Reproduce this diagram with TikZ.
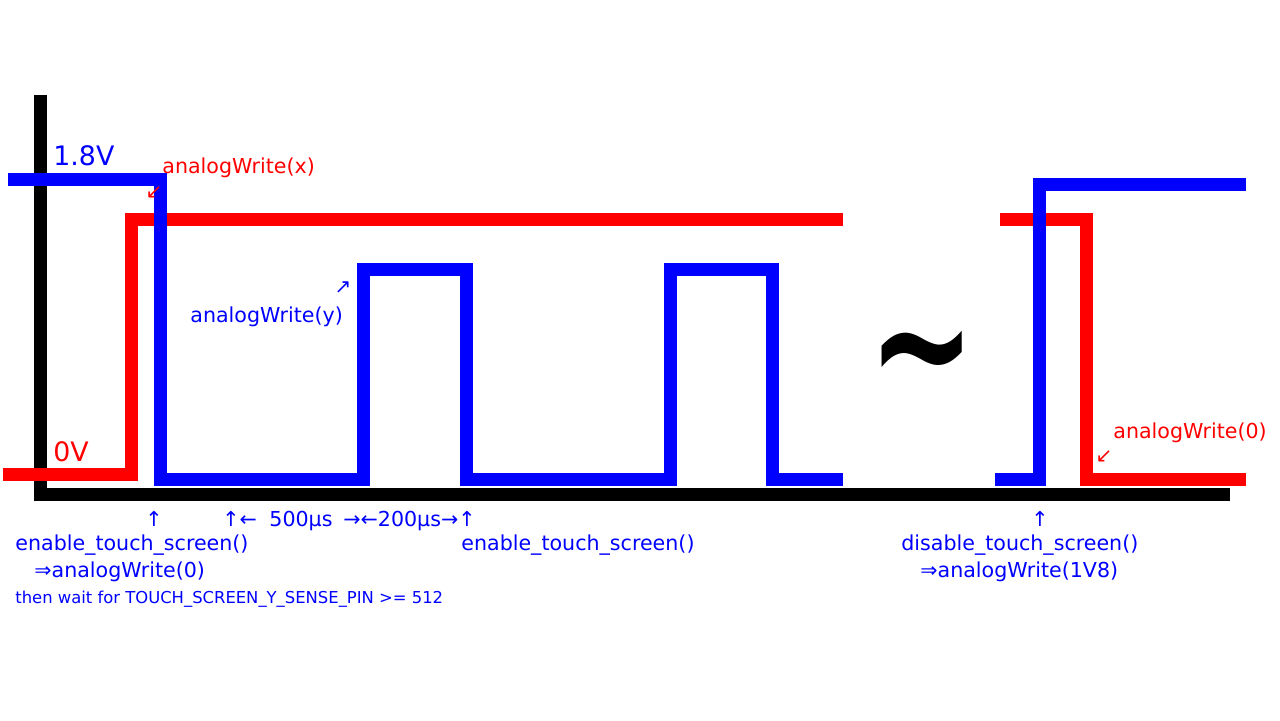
\documentclass[tikz,border=0pt]{standalone}
\usepackage{fontspec}
\setmainfont{DejaVu Sans}
\usepackage{tikz}
\usetikzlibrary{calc, positioning}

\begin{document}
\begin{tikzpicture}[x=0.5pt, y=-0.5pt,
      axisline/.style={line width=6.5pt, draw=black},
      redwave/.style={line width=6.5pt, draw=red},
      bluewave/.style={line width=6.5pt, draw=blue},
      bluelabel/.style={text=blue, inner sep=0pt, anchor=base west, font=\fontsize{10.3}{12}\selectfont},
      redlabel/.style={text=red, inner sep=0pt, anchor=base west, font=\fontsize{10.3}{12}\selectfont},
      ]
      \useasboundingbox (0,0) rectangle (1280,720);

      %Axes
      \draw[axisline] (40,95) -- (40,494) -- (1230,494);

      %Red line
      \draw[redwave] (3,474) -- (131,474) -- (131,219) -- (843,219);
      \draw[redwave] (1000,219) -- (1086,219) -- (1086,479) -- (1246,479);

      %Blue line
      \draw[bluewave] (8,179) -- (160,179) -- (160,479) -- (363,479) -- (363,269)
        -- (466,269) -- (466,479) -- (670,479) -- (670,269) -- (772,269)
        -- (772,479) -- (843,479);
      \draw[bluewave] (995,479) -- (1039,479) -- (1039,184) -- (1246,184);

      %Gap
      \node[inner sep=0pt, yscale=1.4, font=\bfseries\fontsize{64}{64}\selectfont] (gap) at (922,368) {\textasciitilde};

      %Levels
      \node[bluelabel, font=\fontsize{13.4}{15}\selectfont] (high) at (53,165) {1.8V};
      \node[redlabel, font=\fontsize{13.4}{15}\selectfont] (low) at (53,461) {0V};

      %Write labels
      \node[redlabel] (writex) at (162,173) {analogWrite(x)};
      \node[text=red, inner sep=0pt] (arrowx) at (154,193) {↙};
      \node[bluelabel] (writey) at (190,322) {analogWrite(y)};
      \node[text=blue, inner sep=0pt] (arrowy) at (343,288) {↗};
      \node[redlabel] (writezero) at (1113,438) {analogWrite(0)};
      \node[text=red, inner sep=0pt] (arrowzero) at (1104,457) {↙};

      %Timing
      \node[bluelabel, anchor=base] (upa) at (154,526) {↑};
      \node[bluelabel] (upb) at (222,526) {↑←};
      \node[bluelabel] (wait500) at (269,526) {500µs};
      \node[bluelabel] (wait200) at (343,526) {→←200µs→↑};
      \node[bluelabel, anchor=base] (upc) at (1040,526) {↑};

      %Calls
      \node[bluelabel] (enablea) at (15,550) {enable\_touch\_screen()};
      \node[bluelabel] (writea) at (34,577) {⇒analogWrite(0)};
      \node[bluelabel, font=\fontsize{8.2}{10}\selectfont] (waitpin) at (15,603) {then wait for TOUCH\_SCREEN\_Y\_SENSE\_PIN >= 512};
      \node[bluelabel] (enableb) at (461,550) {enable\_touch\_screen()};
      \node[bluelabel] (disable) at (901,550) {disable\_touch\_screen()};
      \node[bluelabel] (writeb) at (920,577) {⇒analogWrite(1V8)};
\end{tikzpicture}
\end{document}
